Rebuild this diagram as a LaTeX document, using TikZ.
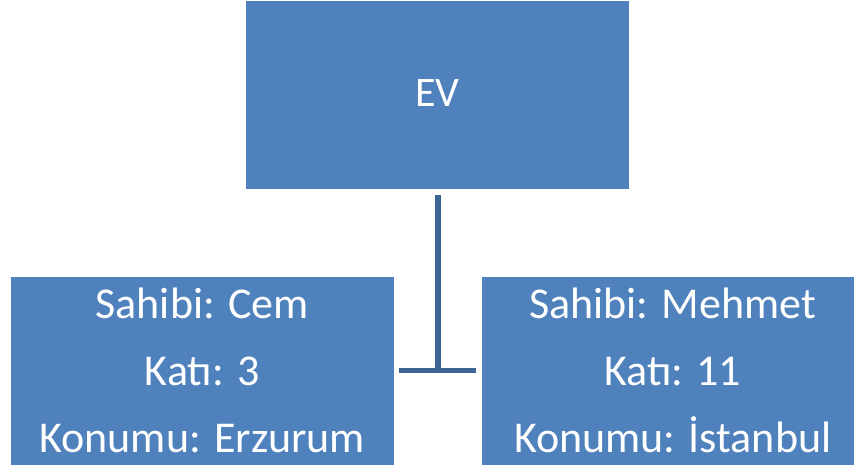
\documentclass[tikz,border=0pt]{standalone}
\usepackage{fontspec}
\setmainfont{Carlito}
\usetikzlibrary{calc}
\definecolor{boxblue}{RGB}{79,129,189}
\definecolor{linkblue}{RGB}{60,100,148}
\tikzset{
  box/.style={rectangle, fill=boxblue, draw=white, line width=0.8pt,
    minimum width=383.5pt, minimum height=189pt, inner sep=0pt,
    text=white, align=center},
  bigtext/.style={font=\fontsize{44}{67}\selectfont},
  titletext/.style={font=\fontsize{42}{48}\selectfont},
  link/.style={draw=linkblue, line width=5.5pt, line cap=butt}
}
\begin{document}
\begin{tikzpicture}[x=1pt,y=-1pt]
\clip (0,0) rectangle (854,469);
\fill[white] (0,0) rectangle (854,469);
\node[box, titletext] (ev) at (437.25,94.5) {\raisebox{2pt}{EV}};
\node[box, bigtext] (cem) at (202.25,370.5) {Sahibi: Cem\\Katı: 3\\Konumu: Erzurum};
\node[box, bigtext] (mehmet) at (672.75,370.5) {Sahibi: Mehmet\\Katı: 11\\Konumu: İstanbul};
\coordinate (stemtop) at ($(ev.south)+(0.75,6)$);
\coordinate (stembot) at (stemtop |- cem.east);
\coordinate (barl) at ($(cem.east)+(5,0)$);
\coordinate (barr) at ($(mehmet.west)+(-5,0)$);
\draw[link] (stemtop) -- ($(stembot)+(0,2.75)$);
\draw[link] (barl) -- (barr);
\end{tikzpicture}
\end{document}
